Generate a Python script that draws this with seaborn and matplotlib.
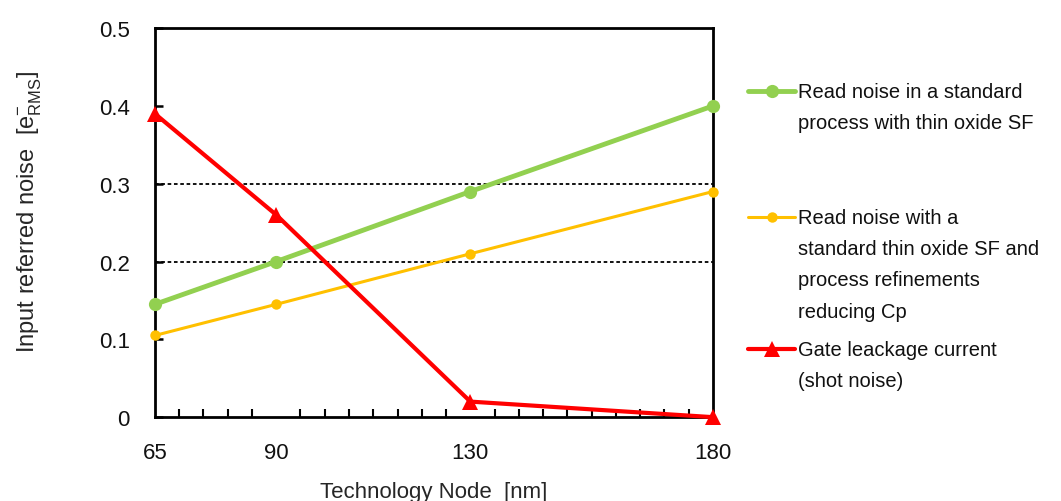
# Libraries
# ===================================================
import numpy as np
import pandas as pd
import seaborn as sns
import matplotlib.pyplot as plt
import matplotlib.lines as mlines
from matplotlib.ticker import MultipleLocator

# Data
# ===================================================
nodes = [65, 90, 130, 180]
read_noise_std = [0.145, 0.20, 0.29, 0.40]
read_noise_refined = [0.105, 0.145, 0.21, 0.29]
gate_leakage = [0.39, 0.26, 0.02, 0.0]

labels = [
    ['Read noise in a standard', 'process with thin oxide SF'],
    ['Read noise with a', 'standard thin oxide SF and', 'process refinements', 'reducing Cp'],
    ['Gate leackage current', '(shot noise)'],
]
y_ticks = [0, 0.1, 0.2, 0.3, 0.4, 0.5]
x_ticks = [65, 90, 130, 180]
grid_levels = [0.2, 0.3]

df = pd.DataFrame({
    'node': nodes,
    'std': read_noise_std,
    'refined': read_noise_refined,
    'leak': gate_leakage,
})

# Visualization
# ===================================================
sns.set_style('white')
plt.rcParams['font.family'] = ['Liberation Sans', 'DejaVu Sans']
plt.rcParams['mathtext.fontset'] = 'custom'
plt.rcParams['mathtext.rm'] = 'Liberation Sans'

fig = plt.figure(figsize=(10.61, 5.02), dpi=100)
ax = fig.add_axes([0.146, 0.167, 0.526, 0.775])

# Dotted reference lines
for g in grid_levels:
    ax.axhline(g, color='black', linestyle=(0, (2, 1.5)), linewidth=1.3, zorder=1)

sns.lineplot(data=df, x='node', y='std', ax=ax, color='#92D050', linewidth=3.5,
             marker='o', markersize=9.5, markeredgewidth=0, zorder=3, clip_on=False)
sns.lineplot(data=df, x='node', y='refined', ax=ax, color='#FFC000', linewidth=2.2,
             marker='o', markersize=7.5, markeredgewidth=0, zorder=3, clip_on=False)
sns.lineplot(data=df, x='node', y='leak', ax=ax, color='#FF0000', linewidth=3,
             marker='^', markersize=12, markeredgewidth=0, zorder=4, clip_on=False)

ax.set_xlim(65, 180)
ax.set_ylim(0, 0.5)
ax.set_xticks(x_ticks)
ax.set_yticks(y_ticks)
ax.set_yticklabels([f'{v:g}' for v in y_ticks])
ax.xaxis.set_minor_locator(MultipleLocator(5))
ax.tick_params(axis='x', which='major', length=0, pad=18, labelsize=16, colors='#111111')
ax.tick_params(axis='x', which='minor', direction='in', length=6, width=1.5, color='black', bottom=True)
ax.tick_params(axis='y', direction='in', length=6, width=1.8, color='black', left=True, pad=18,
               labelsize=16, labelcolor='#111111')

for s in ax.spines.values():
    s.set_color('black')
    s.set_linewidth(2)
    s.set_visible(True)

ax.set_xlabel('Technology Node  [nm]', fontsize=16, labelpad=13)
ax.set_ylabel(r'Input referred noise  [e$^{\mathregular{-}}_{\mathregular{RMS}}$]', fontsize=17)
ax.yaxis.set_label_coords(-0.2, 0.53)

# Custom legend
W, H = 1061, 502
entries = [
    ('#92D050', 'o', 9.5, 3.5, 92),
    ('#FFC000', 'o', 7.5, 2.2, 218),
    ('#FF0000', '^', 12, 3, 350),
]
for (col, mk, ms, lw, ypx), lines in zip(entries, labels):
    yf = 1 - ypx / H
    fig.add_artist(mlines.Line2D([748 / W, 795 / W], [yf, yf], color=col, linewidth=lw))
    fig.add_artist(mlines.Line2D([771.5 / W], [yf], color=col, marker=mk, markersize=ms,
                                 markeredgewidth=0, linestyle='none'))
    for i, t in enumerate(lines):
        fig.text(798 / W, 1 - (ypx + i * 31.5) / H, t, fontsize=14.5, va='center', ha='left',
                 color='#111111')

plt.savefig('out.png', dpi=100)
